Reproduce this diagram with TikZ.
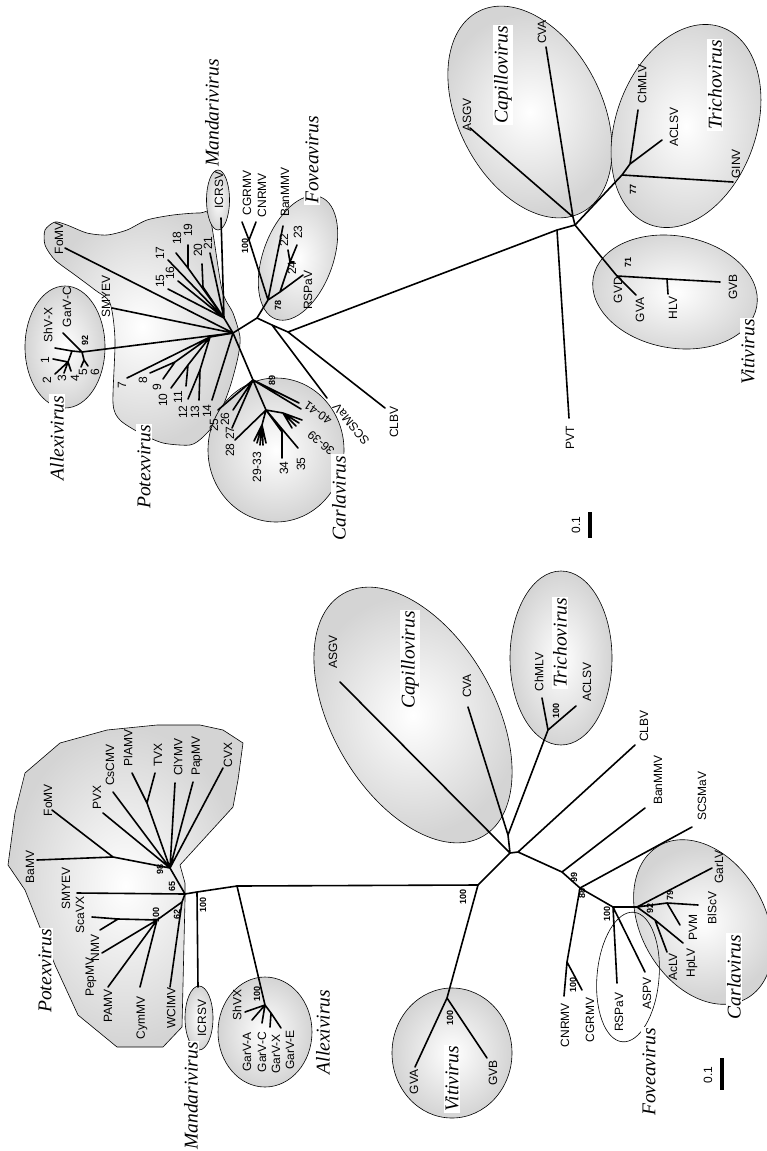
\documentclass[tikz,border=0pt]{standalone}
\usepackage{fontspec}
\setmainfont{Liberation Sans}
\newfontfamily\gfont{Liberation Serif}
\begin{document}
\begin{tikzpicture}[x=1pt,y=-1pt,
 br/.style={line width=1.6pt, line cap=round, line join=round},
 lb/.style={rotate=90, inner sep=0pt, font=\fontsize{12}{12}\selectfont},
 bs/.style={rotate=90, inner sep=0pt, font=\bfseries\fontsize{9}{9}\selectfont},
 gn/.style={rotate=90, fill=white, inner sep=1.5pt, font=\gfont\itshape\fontsize{19.5}{20}\selectfont},
 clade/.style={draw, line width=0.6pt, inner color=white, outer color=black!17},
 outl/.style={draw, line width=0.6pt},
 bar/.style={line width=3.5pt}]
\useasboundingbox (0,0) rectangle (766,1151);

%================ PANEL B (top) =================
\path[clade] plot[smooth cycle, tension=0.45] coordinates {(45,230) (55,222) (67,225) (87,233) (107,235) (127,230) (147,220) (173,215) (200,213) (210,217) (222,290) (233,313) (240,337) (238,357) (230,387) (217,420) (203,437) (190,445) (163,443) (140,433) (120,420) (113,403) (115,340) (110,303) (95,290) (75,275) (55,260) (45,245)};
\path[clade] (65,347) ellipse [x radius=40, y radius=61];
\path[clade] (218,200) ellipse [x radius=11.5, y radius=30];
\path[clade] (276,450) ellipse [x radius=68, y radius=72];
\path[clade, rotate around={-20:(298,258)}] (298,258) ellipse [x radius=35, y radius=65];
\path[clade, rotate around={27:(530,112)}] (530,112) ellipse [x radius=72, y radius=113];
\path[clade, rotate around={-20:(686,126)}] (686,126) ellipse [x radius=70, y radius=105];
\path[clade, rotate around={-10:(675,292)}] (675,292) ellipse [x radius=83, y radius=56];

\coordinate (bO) at (233,333);
\coordinate (bA) at (82,352);
\coordinate (bA1) at (72,351);
\coordinate (bA2) at (68,362);
\coordinate (bA3) at (84,360);
\coordinate (bB1) at (224,318);
\coordinate (bn19) at (188,268);
\coordinate (bn20) at (203,287);
\coordinate (bB2) at (210,337);
\coordinate (bn89) at (175,362);
\coordinate (bn1011) at (188,365);
\coordinate (bn1213) at (200,370);
\coordinate (bC0) at (253,380);
\coordinate (bC1) at (266,410);
\coordinate (bC2) at (262,425);
\coordinate (bC3) at (282,432);
\coordinate (bC4) at (283,413);
\coordinate (bF1) at (257,318);
\coordinate (bF4) at (272,325);
\coordinate (bF3) at (288,332);
\coordinate (bF2) at (268,300);
\coordinate (bM) at (249,240);
\coordinate (bFv) at (280,292);
\coordinate (bFv2) at (290,262);
\coordinate (bP1) at (557,230);
\coordinate (bC) at (575,225);
\coordinate (bK) at (573,217);
\coordinate (bT1) at (622,175);
\coordinate (bT2) at (630,164);
\coordinate (bV1) at (617,276);
\coordinate (bV2) at (667,279);
\coordinate (tGC) at (63,333);
\coordinate (tSX) at (55,348);
\coordinate (t1) at (53,359);
\coordinate (t2) at (55,374);
\coordinate (t3) at (64,373);
\coordinate (t4) at (71,371);
\coordinate (t5) at (81,367);
\coordinate (t6) at (88,366);
\coordinate (tbFo) at (65,248);
\coordinate (tbSM) at (112,308);
\coordinate (t15) at (168,289);
\coordinate (t16) at (178,281);
\coordinate (t17) at (168,260);
\coordinate (t18) at (176,253);
\coordinate (t19) at (188,245);
\coordinate (t20) at (202,264);
\coordinate (t21) at (210,253);
\coordinate (tbIC) at (221,218);
\coordinate (t7) at (127,378);
\coordinate (t8) at (150,373);
\coordinate (t9) at (163,379);
\coordinate (t10) at (171,388);
\coordinate (t11) at (186,386);
\coordinate (t12) at (188,399);
\coordinate (t13) at (199,400);
\coordinate (t14) at (212,400);
\coordinate (t25) at (218,410);
\coordinate (t26) at (233,410);
\coordinate (t27) at (232,428);
\coordinate (t28) at (235,440);
\coordinate (t29) at (254,441);
\coordinate (t30) at (257,443);
\coordinate (t31) at (260,445);
\coordinate (t32) at (263,445);
\coordinate (t33) at (266,443);
\coordinate (t34) at (282,458);
\coordinate (t35) at (298,448);
\coordinate (t36) at (292,428);
\coordinate (t37) at (296,426);
\coordinate (t38) at (299,423);
\coordinate (t39) at (302,420);
\coordinate (t40) at (299,403);
\coordinate (t41) at (301,409);
\coordinate (tbSC) at (327,398);
\coordinate (tbCL) at (385,408);
\coordinate (tbCG) at (242,222);
\coordinate (tbCN) at (256,222);
\coordinate (tbBan) at (283,226);
\coordinate (t22) at (288,250);
\coordinate (t23) at (297,245);
\coordinate (t24) at (294,262);
\coordinate (tbRS) at (303,275);
\coordinate (tbCVA) at (546,47);
\coordinate (tbASGV) at (470,128);
\coordinate (tbPVT) at (569,418);
\coordinate (tbChM) at (638,110);
\coordinate (tbACL) at (662,140);
\coordinate (tbGIN) at (733,182);
\coordinate (tbGVB) at (720,282);
\coordinate (tbGVA) at (636,295);
\coordinate (tbHLV) at (668,294);

\draw[br] (bO) -- (bA) (bA) -- (tGC) (bA) -- (bA1) -- (tSX) (bA1) -- (bA2) (bA2) -- (t1) (bA2) -- (t2) (bA2) -- (t3) (bA2) -- (t4) (bA) -- (bA3) (bA3) -- (t5) (bA3) -- (t6);
\draw[br] (bO) -- (tbFo) (bO) -- (tbSM) (bO) -- (bB1);
\draw[br] (bB1) -- (t15) (bB1) -- (t16) (bB1) -- (t17) (bB1) -- (bn19) -- (t18) (bn19) -- (t19) (bB1) -- (bn20) -- (t20) (bB1) -- (t21) (bB1) -- (tbIC);
\draw[br] (bO) -- (bB2) (bB2) -- (t7) (bB2) -- (bn89) (bn89) -- (t8) (bn89) -- (t9) (bB2) -- (bn1011) (bn1011) -- (t10) (bn1011) -- (t11) (bB2) -- (bn1213) (bn1213) -- (t12) (bn1213) -- (t13) (bO) -- (t14);
\draw[br] (bO) -- (bC0) (bC0) -- (t25) (bC0) -- (t26) (bC0) -- (t27) (bC0) -- (bC1) (bC1) -- (t28) (bC1) -- (bC2) (bC2) -- (t29) (bC2) -- (t30) (bC2) -- (t31) (bC2) -- (t32) (bC2) -- (t33) (bC1) -- (bC3) -- (t34) (bC1) -- (t35) (bC1) -- (bC4) (bC4) -- (t36) (bC4) -- (t37) (bC4) -- (t38) (bC4) -- (t39) (bC0) -- (t40) (bC0) -- (t41);
\draw[br] (bO) -- (bF1) -- (bF4) -- (bF3) (bF4) -- (tbSC) (bF3) -- (tbCL) (bF3) -- (bP1);
\draw[br] (bF1) -- (bF2) (bF2) -- (bM) (bM) -- (tbCG) (bM) -- (tbCN) (bF2) -- (tbBan) (bF2) -- (bFv) (bFv) -- (tbRS) (bFv) -- (bFv2) (bFv2) -- (t22) (bFv2) -- (t23) (bFv2) -- (t24);
\draw[br] (bP1) -- (bC) -- (bK) (bK) -- (tbCVA) (bK) -- (tbASGV) (bP1) -- (tbPVT);
\draw[br] (bC) -- (bT1) -- (bT2) (bT2) -- (tbChM) (bT2) -- (tbACL) (bT1) -- (tbGIN);
\draw[br] (bC) -- (bV1) -- (bV2) -- (tbGVB) (bV2) -- (tbHLV) (bV1) -- (tbGVA);

\node[gn] (gbMan) at (212,113) {Mandarivirus};
\node[gn] (gbAll) at (57,438) {Allexivirus};
\node[gn] (gbPot) at (144,467) {Potexvirus};
\node[gn] (gbCar) at (339,498) {Carlavirus};
\node[gn] (gbFov) at (312,160) {Foveavirus};
\node[gn] (gbCap) at (503,75) {Capillovirus};
\node[gn] (gbTri) at (715,85) {Trichovirus};
\node[gn] (gbVit) at (748,352) {Vitivirus};
\node[lb] (lbIC) at (219,190) {ICRSV};
\node[lb] (lbCG) at (247,193) {CGRMV};
\node[lb] (lbCN) at (262,195) {CNRMV};
\node[lb] (lbBan) at (285,192) {BanMMV};
\node[bs] (sb100a) at (245,246) {100};
\node[lb] (lbFo) at (59,238) {FoMV};
\node[lb] (lbSM) at (106,296) {SMYEV};
\node[lb] (lbSX) at (48,325) {ShV-X};
\node[lb] (lbGC) at (67,307) {GarV-C};
\node[bs] (sb92) at (85,340) {92};
\node[lb] (l1) at (45,360) {1};
\node[lb] (l2) at (47,380) {2};
\node[lb] (l3) at (62,378) {3};
\node[lb] (l4) at (75,378) {4};
\node[lb] (l5) at (83,372) {5};
\node[lb] (l6) at (95,372) {6};
\node[lb] (l7) at (122,385) {7};
\node[lb] (l8) at (143,380) {8};
\node[lb] (l9) at (157,387) {9};
\node[lb] (l10) at (163,400) {10};
\node[lb] (l11) at (178,397) {11};
\node[lb] (l12) at (183,412) {12};
\node[lb] (l13) at (195,412) {13};
\node[lb] (l14) at (207,411) {14};
\node[lb] (l15) at (160,281) {15};
\node[lb] (l16) at (170,273) {16};
\node[lb] (l17) at (160,253) {17};
\node[lb] (l18) at (177,238) {18};
\node[lb] (l19) at (188,230) {19};
\node[lb] (l20) at (198,250) {20};
\node[lb] (l21) at (208,243) {21};
\node[lb] (l22) at (284,240) {22};
\node[lb] (l23) at (298,232) {23};
\node[lb] (l24) at (292,268) {24};
\node[lb] (lbRS) at (308,290) {RSPaV};
\node[bs] (sb78) at (278,305) {78};
\node[lb] (l25) at (214,425) {25};
\node[lb] (l26) at (225,419) {26};
\node[lb] (l27) at (230,433) {27};
\node[lb] (l28) at (230,450) {28};
\node[lb] (l2933) at (257,467) {29-33};
\node[lb] (l34) at (284,468) {34};
\node[lb] (l35) at (301,464) {35};
\node[lb, rotate=50] (l3639) at (321,443) {36-39};
\node[lb, rotate=55] (l4041) at (318,413) {40-41};
\node[bs] (sb89) at (272,380) {89};
\node[lb, rotate=40] (lbSC) at (351,424) {SCSMaV};
\node[lb] (lbCL) at (394,422) {CLBV};
\node[lb] (lbCVA) at (542,32) {CVA};
\node[lb] (lbASGV) at (467,115) {ASGV};
\node[lb] (lbPVT) at (570,438) {PVT};
\node[lb] (lbChM) at (642,84) {ChMLV};
\node[lb] (lbACL) at (674,127) {ACLSV};
\node[lb] (lbGIN) at (736,164) {GINV};
\node[bs] (sb77) at (633,189) {77};
\node[bs] (sb71) at (628,262) {71};
\node[lb] (lbGVD) at (618,290) {GVD};
\node[lb] (lbGVA) at (640,310) {GVA};
\node[lb] (lbHLV) at (673,308) {HLV};
\node[lb] (lbGVB) at (733,287) {GVB};
\coordinate (sbB1) at (590,512);
\coordinate (sbB2) at (590,538);
\draw[bar] (sbB1) -- (sbB2);
\node[lb] (lbsB) at (576,525) {0.1};

%================ PANEL A (bottom) =================
\path[clade] (8,865) -- (15,813) -- (25,773) -- (60,743) -- (107,730) -- (157,725) -- (200,725) -- (223,730) -- (243,743) -- (238,780) -- (233,807) -- (180,865) -- (185,883) -- (185,900) -- (182,1027) -- (163,1047) -- (117,1047) -- (78,1015) -- (55,965) -- (43,935) -- (25,890) -- cycle;
\path[clade] (199,1018) ellipse [x radius=14, y radius=32];
\path[clade] (265,1032) ellipse [x radius=47, y radius=55];
\path[clade, rotate around={30:(413,715)}] (413,715) ellipse [x radius=81, y radius=140];
\path[clade] (561,658) ellipse [x radius=51, y radius=87];
\path[clade] (452,1053) ellipse [x radius=60, y radius=65];
\path[clade, rotate around={30:(703,922)}] (703,922) ellipse [x radius=62, y radius=88];
\path[outl, rotate around={-5:(628,977)}] (628,977) ellipse [x radius=31, y radius=65];

\coordinate (aP98) at (170,868);
\coordinate (aPb) at (113,857);
\coordinate (aPt) at (147,803);
\coordinate (aP65) at (185,894);
\coordinate (aP62) at (182,902);
\coordinate (aN100) at (157,920);
\coordinate (aNp) at (118,919);
\coordinate (aHm) at (197,892);
\coordinate (aH) at (237,886);
\coordinate (aG) at (478,885);
\coordinate (aE) at (510,853);
\coordinate (aEc) at (508,835);
\coordinate (aF) at (518,852);
\coordinate (aN99) at (562,872);
\coordinate (aN88) at (580,888);
\coordinate (aNcn) at (567,962);
\coordinate (aN100f) at (613,907);
\coordinate (aN92) at (637,907);
\coordinate (aN79) at (667,903);
\coordinate (aNh) at (655,920);
\coordinate (aTr) at (548,730);
\coordinate (aAr) at (265,1005);
\coordinate (aAr2) at (271,1013);
\coordinate (aV) at (447,998);

\coordinate (taBaMV) at (37,860);
\coordinate (taFoMV) at (52,810);
\coordinate (taPVX) at (103,813);
\coordinate (taCsCMV) at (113,792);
\coordinate (taPlAMV) at (132,773);
\coordinate (taTVX) at (155,773);
\coordinate (taClYMV) at (175,783);
\coordinate (taPapMV) at (193,782);
\coordinate (taCVX) at (223,768);
\coordinate (taSMYEV) at (77,893);
\coordinate (taWClMV) at (170,987);
\coordinate (taScaVX) at (92,917);
\coordinate (taNMV) at (100,930);
\coordinate (taPepMV) at (102,953);
\coordinate (taPAMV) at (108,987);
\coordinate (taCymMV) at (140,987);
\coordinate (taICRSV) at (198,987);
\coordinate (taShVX) at (245,1012);
\coordinate (taGarVA) at (252,1020);
\coordinate (taGarVC) at (262,1023);
\coordinate (taGarVX) at (270,1027);
\coordinate (taGarVE) at (281,1028);
\coordinate (taASGV) at (340,682);
\coordinate (taCVA) at (468,707);
\coordinate (taChMLV) at (542,698);
\coordinate (taACLSV) at (576,706);
\coordinate (taCLBV) at (635,745);
\coordinate (taBanMMV) at (645,808);
\coordinate (taSCSMaV) at (692,827);
\coordinate (taCNRMV) at (564,996);
\coordinate (taCGRMV) at (582,990);
\coordinate (taRSPaV) at (617,983);
\coordinate (taASPV) at (645,972);
\coordinate (taGarLV) at (712,868);
\coordinate (taBlScV) at (698,905);
\coordinate (taPVM) at (680,925);
\coordinate (taHpLV) at (683,943);
\coordinate (taAcLV) at (667,952);
\coordinate (taGVA) at (415,1067);
\coordinate (taGVB) at (487,1058);

\draw[br] (aP98) -- (aPb) (aPb) -- (taBaMV) (aPb) -- (taFoMV) (aP98) -- (taPVX) (aP98) -- (taCsCMV) (aP98) -- (aPt) (aPt) -- (taPlAMV) (aPt) -- (taTVX) (aP98) -- (taClYMV) (aP98) -- (taPapMV) (aP98) -- (taCVX);
\draw[br] (aP98) -- (aP65) (aP65) -- (taSMYEV) (aP65) -- (aP62) (aP62) -- (taWClMV) (aP62) -- (aN100) (aN100) -- (aNp) (aNp) -- (taScaVX) (aNp) -- (taNMV) (aN100) -- (taPepMV) (aN100) -- (taPAMV) (aN100) -- (taCymMV);
\draw[br] (aP65) -- (aHm) -- (aH) (aHm) -- (taICRSV);
\draw[br] (aH) -- (aAr) (aAr) -- (taShVX) (aAr) -- (taGarVA) (aAr) -- (taGarVC) (aAr) -- (aAr2) (aAr2) -- (taGarVX) (aAr2) -- (taGarVE);
\draw[br] (aH) -- (aG) (aG) -- (aV) (aV) -- (taGVA) (aV) -- (taGVB);
\draw[br] (aG) -- (aE) (aE) -- (taASGV) (aE) -- (aEc) (aEc) -- (taCVA) (aEc) -- (aTr) (aTr) -- (taChMLV) (aTr) -- (taACLSV);
\draw[br] (aE) -- (aF) (aF) -- (taCLBV) (aF) -- (aN99) (aN99) -- (taBanMMV) (aN99) -- (aN88) (aN88) -- (taSCSMaV) (aN88) -- (aNcn) (aNcn) -- (taCNRMV) (aNcn) -- (taCGRMV);
\draw[br] (aN88) -- (aN100f) (aN100f) -- (taRSPaV) (aN100f) -- (taASPV) (aN100f) -- (aN92) (aN92) -- (taGarLV) (aN92) -- (aN79) (aN79) -- (taBlScV) (aN79) -- (taPVM) (aN92) -- (aNh) (aNh) -- (taHpLV) (aNh) -- (taAcLV);

\node[gn] (gaPot) at (45,971) {Potexvirus};
\node[gn] (gaMan) at (191,1096) {Mandarivirus};
\node[gn] (gaAll) at (323,1032) {Allexivirus};
\node[gn] (gaCap) at (410,660) {Capillovirus};
\node[gn] (gaTri) at (560,643) {Trichovirus};
\node[gn] (gaVit) at (452,1079) {Vitivirus};
\node[gn] (gaFov) at (649,1072) {Foveavirus};
\node[gn] (gaCar) at (734,977) {Carlavirus};

\node[lb] (laBaMV) at (30,867) {BaMV};
\node[lb] (laFoMV) at (48,800) {FoMV};
\node[lb] (laPVX) at (97,797) {PVX};
\node[lb] (laCsCMV) at (110,765) {CsCMV};
\node[lb] (laPlAMV) at (128,748) {PlAMV};
\node[lb] (laTVX) at (158,755) {TVX};
\node[lb] (laClYMV) at (178,757) {ClYMV};
\node[lb] (laPapMV) at (197,756) {PapMV};
\node[lb] (laCVX) at (228,755) {CVX};
\node[lb] (laSMYEV) at (66,888) {SMYEV};
\node[lb] (laScaVX) at (80,915) {ScaVX};
\node[lb] (laNMV) at (95,948) {NMV};
\node[lb] (laPepMV) at (91,977) {PepMV};
\node[lb] (laPAMV) at (108,1006) {PAMV};
\node[lb] (laCymMV) at (142,1018) {CymMV};
\node[lb] (laWClMV) at (171,1008) {WClMV};
\node[lb] (laICRSV) at (202,1018) {ICRSV};
\node[bs] (sa98) at (160,869) {98};
\node[bs] (sa65) at (172,886) {65};
\node[bs] (sa62) at (177,914) {62};
\node[bs] (sa100p) at (156,915) {100};
\node[bs] (sa100i) at (203,905) {100};
\node[lb] (laShVX) at (237,1005) {ShVX};
\node[lb] (laGarVA) at (247,1052) {GarV-A};
\node[lb] (laGarVC) at (262,1052) {GarV-C};
\node[lb] (laGarVX) at (276,1054) {GarV-X};
\node[lb] (laGarVE) at (290,1050) {GarV-E};
\node[bs] (sa100a) at (257,994) {100};
\node[lb] (laASGV) at (333,652) {ASGV};
\node[lb] (laCVA) at (467,686) {CVA};
\node[lb] (laChMLV) at (539,672) {ChMLV};
\node[lb] (laACLSV) at (587,682) {ACLSV};
\node[bs] (sa100t) at (556,711) {100};
\node[lb] (laCLBV) at (644,726) {CLBV};
\node[lb] (laBanMMV) at (658,780) {BanMMV};
\node[lb] (laSCSMaV) at (702,796) {SCSMaV};
\node[bs] (sa99) at (574,877) {99};
\node[bs] (sa88) at (582,893) {88};
\node[lb] (laCNRMV) at (565,1025) {CNRMV};
\node[bs] (sa100c) at (573,985) {100};
\node[lb] (laCGRMV) at (590,1020) {CGRMV};
\node[bs] (sa100f) at (607,914) {100};
\node[lb] (laRSPaV) at (619,1012) {RSPaV};
\node[lb] (laASPV) at (647,993) {ASPV};
\node[lb] (laGarLV) at (719,867) {GarLV};
\node[bs] (sa92) at (650,908) {92};
\node[bs] (sa79) at (670,895) {79};
\node[lb] (laBlScV) at (712,908) {BlScV};
\node[lb] (laPVM) at (693,927) {PVM};
\node[lb] (laHpLV) at (692,963) {HpLV};
\node[lb] (laAcLV) at (673,967) {AcLV};
\node[lb] (laGVA) at (414,1082) {GVA};
\node[lb] (laGVB) at (493,1073) {GVB};
\node[bs] (sa100v) at (450,1018) {100};
\node[bs] (sa100g) at (463,897) {100};
\coordinate (sbA1) at (722,1058);
\coordinate (sbA2) at (722,1090);
\draw[bar] (sbA1) -- (sbA2);
\node[lb] (lasA) at (708,1075) {0.1};
\end{tikzpicture}
\end{document}
